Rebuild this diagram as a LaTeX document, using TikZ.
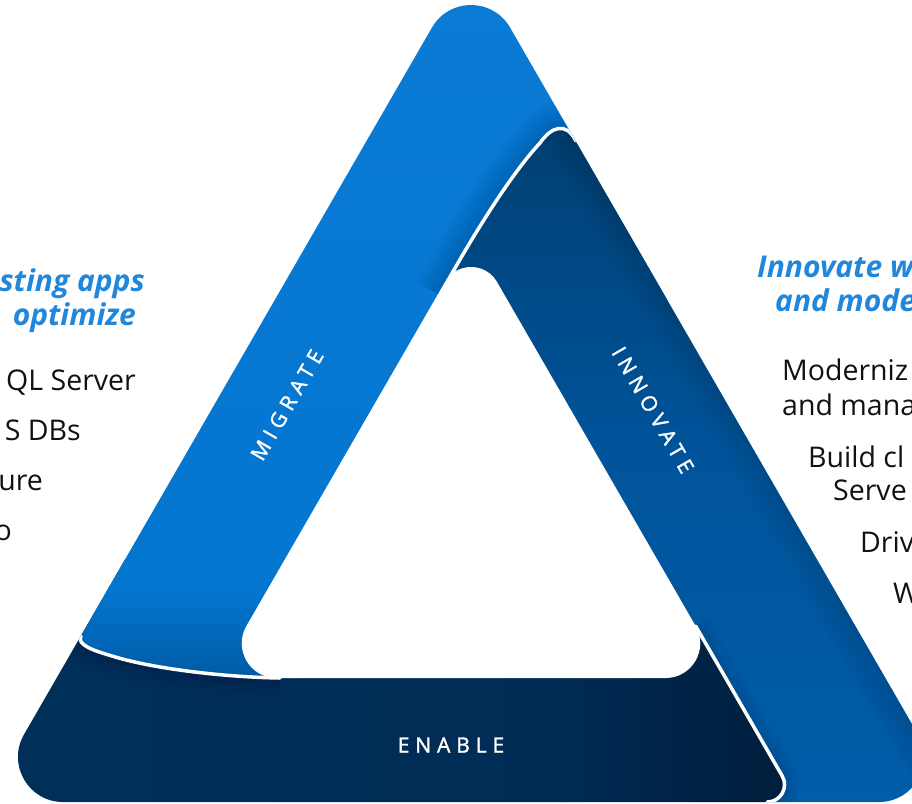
\documentclass[tikz,border=0pt]{standalone}
\usepackage{fontspec}
\setmainfont{Open Sans}
\newfontfamily\bandfont[LetterSpace=28,FakeBold=1.6]{Open Sans}
\usetikzlibrary{calc}
\definecolor{migA}{HTML}{0B7BD6}
\definecolor{migB}{HTML}{0376D0}
\definecolor{migC}{HTML}{0059A2}
\definecolor{innA}{HTML}{003F72}
\definecolor{innB}{HTML}{00549B}
\definecolor{innC}{HTML}{005DA8}
\definecolor{enaA}{HTML}{00305B}
\definecolor{enaB}{HTML}{002B54}
\definecolor{enaC}{HTML}{001D3A}
\definecolor{shadowc}{HTML}{001830}
\definecolor{headblue}{HTML}{2087DC}
\definecolor{bodytext}{HTML}{111111}
\begin{document}
\begin{tikzpicture}[x=1pt,y=-1pt,
  capline/.style={draw=white,line width=3.5pt,line cap=round},
  shadowline/.style={draw=shadowc,draw opacity=0.016},
  bandlabel/.style={text=white,font=\bandfont\fontsize{21}{25}\selectfont,inner sep=0pt},
  heading/.style={text=headblue,font=\fontsize{30}{34}\selectfont\bfseries\itshape,inner sep=0pt},
  bodyline/.style={text=bodytext,font=\fontsize{28.5}{32}\selectfont,inner sep=0pt}]
\useasboundingbox (0,0) rectangle (912,803);
\def\outerpath{(432,27.5) .. controls (449.3,-2.5) and (492.7,-2.5) .. (510,27.5) -- (918,734.5) .. controls (935.3,764.5) and (913.6,802) .. (879,802) -- (63,802) .. controls (28.4,802) and (6.7,764.5) .. (24,734.5) -- cycle}
\def\holepath{(445,282) .. controls (456.5,262) and (485.5,262) .. (497,282) -- (695.6,626) .. controls (708.9,649.1) and (692.2,678) .. (665.6,678) -- (276.4,678) .. controls (249.8,678) and (233.1,649.1) .. (246.4,626) -- cycle}
\def\icap{(440,295) .. controls (470,240) and (510,175) .. (540,143) .. controls (551,127) and (566,121) .. (576,141)}
\def\mcap{(280,678) .. controls (220,677) and (150,668) .. (112,656) .. controls (95,651) and (76,645) .. (81,636)}
\def\ecap{(695.6,626) -- (782.2,776) .. controls (788.9,787.5) and (780.5,802) .. (767.2,802)}
\begin{scope}
  \clip \outerpath;
  % ENABLE band
  \begin{scope}
    \clip (-100,560) -- (657.5,560) -- (782.2,776) .. controls (788.9,787.5) and (780.5,802) .. (767.2,802) -- (767.2,900) -- (-100,900) -- cycle;
    \shade[left color=enaA, right color=enaB] (-20,550) rectangle (561,810);
    \shade[left color=enaB, right color=enaC] (560,550) rectangle (800,810);
  \end{scope}
  \foreach \w in {40,36,...,4} \draw[shadowline,line width=\w pt] \mcap;
  % MIGRATE band
  \begin{scope}
    \clip (-100,-100) -- (1000,-100) -- (1000,300) -- (470,300) -- (320,660) -- (300,678) -- (280,678) .. controls (220,677) and (150,668) .. (112,656) .. controls (95,651) and (76,645) .. (81,636) -- (-100,636) -- cycle;
    \shade[top color=migA, bottom color=migB] (-20,-20) rectangle (1000,591);
    \shade[top color=migB, bottom color=migC] (-20,590) rectangle (1000,682);
  \end{scope}
  \draw[capline] \mcap;
  \foreach \w in {56,51,...,6} \draw[shadowline,line width=\w pt] \icap;
  % INNOVATE band
  \begin{scope}
    \clip (440,295) .. controls (470,240) and (510,175) .. (540,143) .. controls (551,127) and (566,121) .. (576,141) -- (1000,141) -- (1000,900) -- (767.2,900) -- (767.2,802) .. controls (780.5,802) and (788.9,787.5) .. (782.2,776) -- (657.5,560) -- cycle;
    \shade[top color=innA, bottom color=innB] (300,120) rectangle (1000,451);
    \shade[top color=innB, bottom color=innC] (300,450) rectangle (1000,810);
    \foreach \w in {56,50,...,8} \draw[shadowline,line width=\w pt] (471,-40) -- (957,802);
    \foreach \w in {32,28,...,4} \draw[shadowline,line width=\w pt] \ecap;
  \end{scope}
  \draw[capline] \icap;
  \draw[capline] \ecap;
\end{scope}
% inner hole
\fill[white] \holepath;
% band labels
\node[bandlabel,rotate=60] (mig) at (287,405) {MIGRATE};
\node[bandlabel,rotate=-60] (inn) at (653,410) {INNOVATE};
\node[bandlabel] (ena) at (451,745) {ENABLE};
% left text block
\node[heading,anchor=base east] (lh1) at (145,291) {sting apps};
\node[heading,anchor=base east] (lh2) at (136,325) {optimize};
\node[bodyline,anchor=base east] (l1) at (136,390) {QL Server};
\node[bodyline,anchor=base east] (l2) at (81,440) {S DBs};
\node[bodyline,anchor=base east] (l3) at (43,490) {ure};
\node[bodyline,anchor=base east] (l4) at (12,540) {o};
% right text block
\node[heading,anchor=base west] (rh1) at (757,277) {Innovate w};
\node[heading,anchor=base west] (rh2) at (775,311) {and mode};
\node[bodyline,anchor=base west] (r1) at (782,380) {Moderniz};
\node[bodyline,anchor=base west] (r2) at (782,415) {and mana};
\node[bodyline,anchor=base west] (r3) at (808,467) {Build cl};
\node[bodyline,anchor=base west] (r4) at (833,500) {Serve};
\node[bodyline,anchor=base west] (r5) at (860,552) {Driv};
\node[bodyline,anchor=base west] (r6) at (893,603) {W};
\end{tikzpicture}
\end{document}
